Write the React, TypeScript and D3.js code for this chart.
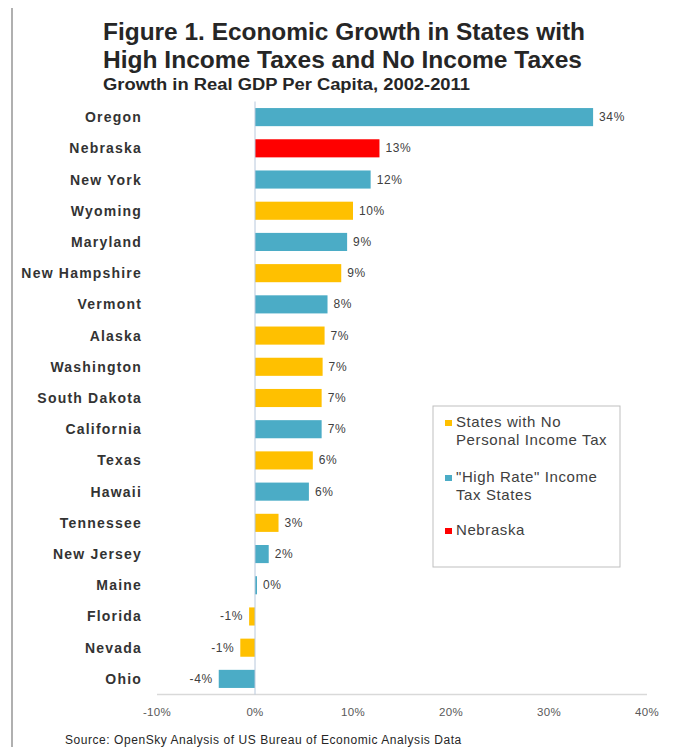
import React from "react";
import * as d3 from "d3";

const states = ["Oregon","Nebraska","New York","Wyoming","Maryland","New Hampshire","Vermont","Alaska","Washington","South Dakota","California","Texas","Hawaii","Tennessee","New Jersey","Maine","Florida","Nevada","Ohio"];
const growth = [34.5,12.7,11.8,10.0,9.4,8.8,7.4,7.1,6.9,6.8,6.8,5.9,5.5,2.4,1.4,0.2,-0.6,-1.5,-3.7];
const labels = ["34%","13%","12%","10%","9%","9%","8%","7%","7%","7%","7%","6%","6%","3%","2%","0%","-1%","-1%","-4%"];
const groups = ["high","neb","high","none","high","none","high","none","none","none","high","none","high","none","high","high","none","none","high"];
const xTicks = [-10,0,10,20,30,40];
const legendItems = [
  { key: "none", lines: ["States with No", "Personal Income Tax"] },
  { key: "high", lines: ["\"High Rate\" Income", "Tax States"] },
  { key: "neb", lines: ["Nebraska"] },
];
const colors: Record<string,string> = { high: "#4bacc6", none: "#ffc000", neb: "#ff0000" };

export default function App() {
  const W = 679, H = 755;
  const x = d3.scaleLinear().domain([-10, 40]).range([157, 647]);
  const y = d3.scaleBand<string>().domain(states).range([101.5, 694.5]).paddingInner(0.42).paddingOuter(0.21);
  const font = "'Liberation Sans', Arial, sans-serif";
  return (
    <div style={{ margin: -8 }}>
      <svg width={W} height={H} style={{ display: "block", fontFamily: font }}>
        <rect x={0} y={0} width={W} height={H} fill="#fff" />
        <rect x={12} y={5} width={663} height={H + 10} fill="none" stroke="#b0b0b0" strokeWidth={2} />
        <text x={103} y={40} fontSize={24} fontWeight="bold" fill="#262626" textLength={482} lengthAdjust="spacingAndGlyphs">Figure 1. Economic Growth in States with</text>
        <text x={103} y={68} fontSize={24} fontWeight="bold" fill="#262626" textLength={479} lengthAdjust="spacingAndGlyphs">High Income Taxes and No Income Taxes</text>
        <text x={103} y={90} fontSize={16} fontWeight="bold" fill="#262626" textLength={367} lengthAdjust="spacingAndGlyphs">Growth in Real GDP Per Capita, 2002-2011</text>
        {/* axis line */}
        <line x1={x(-10)} x2={x(40)} y1={694.5} y2={694.5} stroke="#d9d9d9" strokeWidth={1.5} />
        {xTicks.map(t => (
          <text key={t} x={x(t)} y={716} fontSize={11.5} textAnchor="middle" fill="#595959" letterSpacing={0.3}>{t}%</text>
        ))}
        {states.map((s, i) => {
          const v = growth[i];
          const x0 = x(Math.min(0, v)), x1 = x(Math.max(0, v));
          const yy = y(s)!;
          const cy = yy + y.bandwidth() / 2;
          return (
            <g key={s}>
              <text x={142} y={cy + 5} fontSize={14} fontWeight="bold" textAnchor="end" fill="#333" letterSpacing={1.2}>{s}</text>
              <rect x={x0} y={yy} width={Math.max(x1 - x0, 2)} height={y.bandwidth()} fill={colors[groups[i]]} />
              <text x={v >= 0 ? x1 + 6 : x0 - 6} y={cy + 4} fontSize={12} textAnchor={v >= 0 ? "start" : "end"} fill="#404040" letterSpacing={0.6}>{labels[i]}</text>
            </g>
          );
        })}
        <line x1={x(0)} x2={x(0)} y1={101.5} y2={694.5} stroke="#b8c8dc" strokeWidth={1} />
        {/* legend */}
        <rect x={433} y={406} width={187} height={161} fill="#fff" stroke="#bfbfbf" strokeWidth={1} />
        {legendItems.map((it, i) => {
          const top = [427, 482, 535][i];
          return (
            <g key={it.key}>
              <rect x={445} y={top - 7} width={7} height={6} fill={colors[it.key]} />
              {it.lines.map((ln, j) => (
                <text key={j} x={456} y={top + j * 18} fontSize={15} fill="#404040" letterSpacing={0.6}>{ln}</text>
              ))}
            </g>
          );
        })}
        <text x={65} y={744} fontSize={12} fill="#262626" letterSpacing={0.55}>Source: OpenSky Analysis of US Bureau of Economic Analysis Data</text>
      </svg>
    </div>
  );
}
